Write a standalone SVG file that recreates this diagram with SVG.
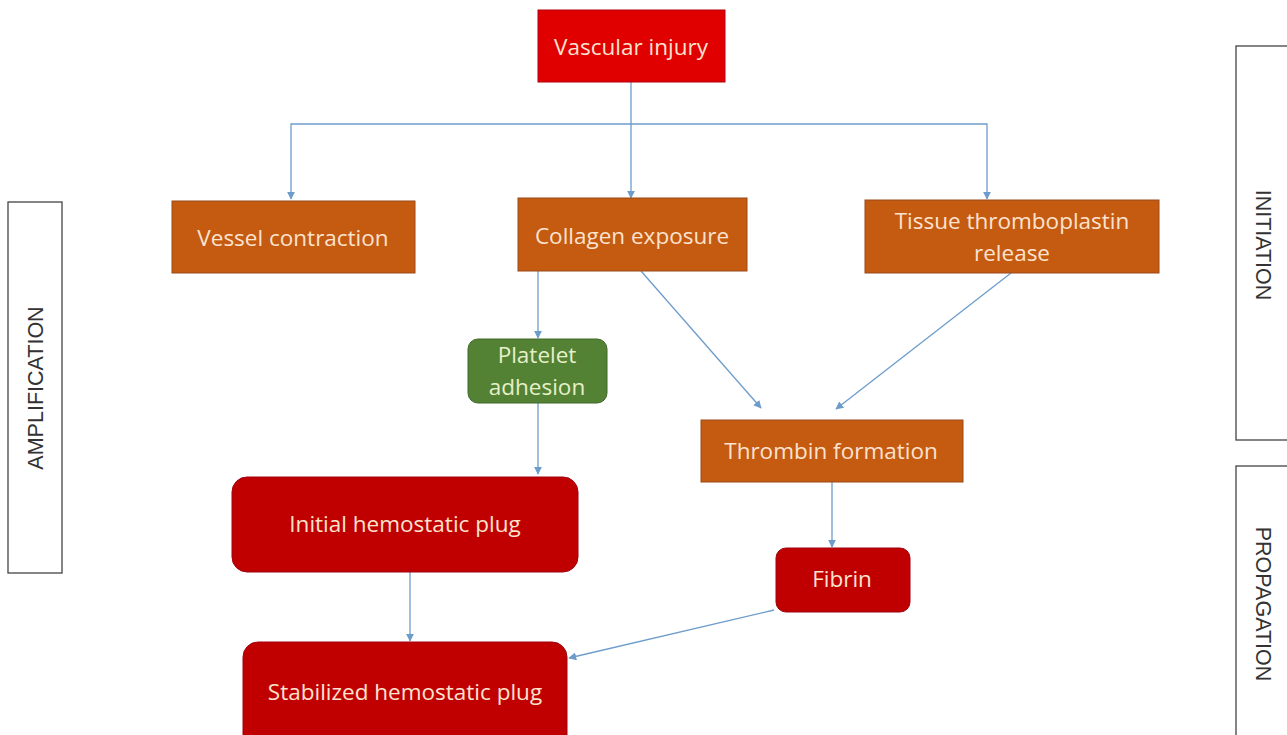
<svg xmlns="http://www.w3.org/2000/svg" width="1287" height="735" viewBox="0 0 1287 735">
<style>
.lbl{font-family:"Open Sans","Noto Sans",sans-serif;font-size:22.5px;text-anchor:middle}
.w{fill:#fbe3cf}
.g{fill:#e6f0c8}
.side{font-family:"Liberation Sans",Arial,sans-serif;font-size:21.5px;fill:#333;text-anchor:middle}
.orange{fill:#c55a11;stroke:#9a4a1a;stroke-width:1}
.dred{fill:#c00000;stroke:#a00010;stroke-width:1}
.conn line,.conn polyline{stroke:#6d9ccb;stroke-width:1.3;fill:none;marker-end:url(#ah)}
.frame{fill:#fff;stroke:#444;stroke-width:1.3}
</style>
<defs>
<marker id="ah" viewBox="0 0 10 10" refX="9" refY="5" markerWidth="8" markerHeight="8" markerUnits="userSpaceOnUse" orient="auto">
<path d="M0,0 L10,5 L0,10 z" fill="#6d9ccb"/>
</marker>
</defs>
<rect width="1287" height="735" fill="#fff"/>
<g id="amplification"><rect class="frame" x="8" y="202" width="54" height="371"/><text class="side" transform="translate(43,388) rotate(-90)">AMPLIFICATION</text></g>
<g id="initiation"><rect class="frame" x="1236" y="46" width="60" height="394"/><text class="side" transform="translate(1256,245) rotate(90)">INITIATION</text></g>
<g id="propagation"><rect class="frame" x="1236" y="466" width="60" height="290"/><text class="side" transform="translate(1256,604) rotate(90)">PROPAGATION</text></g>
<g class="conn">
<line x1="631" y1="82" x2="631" y2="198"/>
<polyline points="631,124 291,124 291,199"/>
<polyline points="631,124 987,124 987,199"/>
<line x1="538" y1="271" x2="538" y2="338"/>
<line x1="641" y1="271" x2="761" y2="408"/>
<line x1="1011" y1="273" x2="836" y2="409"/>
<line x1="538" y1="403" x2="538" y2="474"/>
<line x1="832" y1="482" x2="832" y2="547"/>
<line x1="410" y1="572" x2="410" y2="641"/>
<line x1="774" y1="610" x2="569" y2="658"/>
</g>
<g id="vascular"><rect x="538" y="10" width="187" height="72" fill="#e00000" stroke="#b00010"/><text class="lbl w" x="631" y="55">Vascular injury</text></g>
<g id="vessel"><rect class="orange" x="172" y="201" width="243" height="72"/><text class="lbl w" x="293" y="246">Vessel contraction</text></g>
<g id="collagen"><rect class="orange" x="518" y="198" width="229" height="73"/><text class="lbl w" x="632" y="244">Collagen exposure</text></g>
<g id="tissue"><rect class="orange" x="865" y="200" width="294" height="73"/><text class="lbl w" x="1012" y="229">Tissue thromboplastin</text><text class="lbl w" x="1012" y="261">release</text></g>
<g id="platelet"><rect x="468" y="339" width="139" height="64" rx="10" fill="#548235" stroke="#41692a"/><text class="lbl g" x="537" y="363">Platelet</text><text class="lbl g" x="537" y="395">adhesion</text></g>
<g id="thrombin"><rect class="orange" x="701" y="420" width="262" height="62"/><text class="lbl w" x="831" y="459">Thrombin formation</text></g>
<g id="initial"><rect class="dred" x="232" y="477" width="346" height="95" rx="15"/><text class="lbl w" x="405" y="532">Initial hemostatic plug</text></g>
<g id="fibrin"><rect class="dred" x="776" y="548" width="134" height="64" rx="10"/><text class="lbl w" x="842" y="587">Fibrin</text></g>
<g id="stabilized"><rect class="dred" x="243" y="642" width="324" height="110" rx="15"/><text class="lbl w" x="405" y="700">Stabilized hemostatic plug</text></g>
</svg>
